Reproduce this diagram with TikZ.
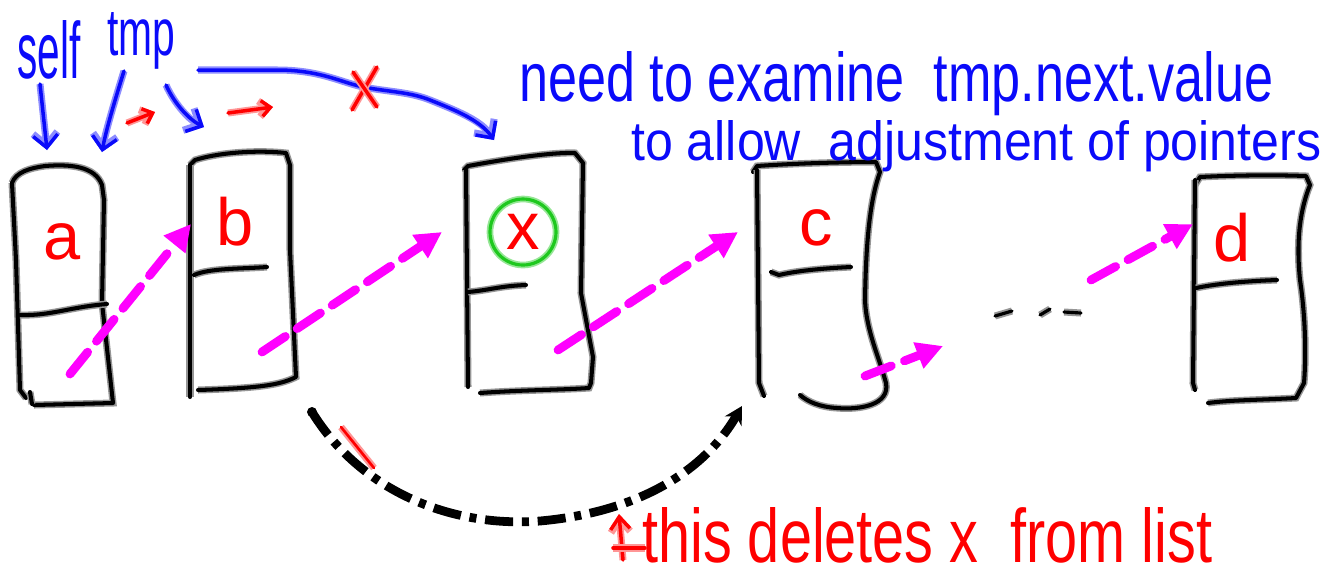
\documentclass[tikz,border=0pt]{standalone}
\usepackage{fontspec}
\setmainfont{Liberation Sans}
\usetikzlibrary{arrows.meta}
\definecolor{halo}{RGB}{150,150,150}
\definecolor{bluepen}{RGB}{10,10,250}
\definecolor{bluehalo}{RGB}{140,140,255}
\definecolor{redpen}{RGB}{255,0,0}
\definecolor{redhalo}{RGB}{255,150,150}
\definecolor{magpen}{RGB}{255,0,255}
\definecolor{greenpen}{RGB}{30,200,30}
\definecolor{greenhalo}{RGB}{150,230,150}
\tikzset{
  boxline/.style={draw=black, line width=2.3pt, line cap=round, line join=round,
    preaction={draw=halo, line width=4pt}},
  bluestroke/.style={draw=bluepen, line width=2pt, line cap=round, line join=round,
    preaction={draw=bluehalo, line width=4pt}},
  redstroke/.style={draw=redpen, line width=2pt, line cap=round, line join=round,
    preaction={draw=redhalo, line width=4pt}},
  bluearrow/.style={bluestroke, -{Straight Barb[length=7pt,width=14pt]}},
  redarrow/.style={redstroke, -{Straight Barb[length=5pt,width=9pt]}},
  magarrow/.style={draw=magpen, line width=5pt, line cap=round,
    dash pattern=on 16pt off 8pt, -{Triangle[length=15pt,width=15pt]}},
  delarrow/.style={draw=black, line width=5pt,
    dash pattern=on 16pt off 5pt on 4pt off 5pt, -{Stealth[length=10pt,width=11pt]}},
  boxlabel/.style={text=redpen, inner sep=0pt, font=\fontsize{38}{38}\selectfont},
  bluetext/.style={text=bluepen, inner sep=0pt, anchor=base west},
  redtext/.style={text=redpen, inner sep=0pt, anchor=base west},
}
\begin{document}
\begin{tikzpicture}[x=0.02cm, y=-0.02cm]
\useasboundingbox (0,0) rectangle (1333,583);

% ---------- boxes ----------
% a
\draw[boxline] (12,183) .. controls (16,172) and (30,168) .. (45,166) .. controls (70,164) and (95,166) .. (102,185)
  -- (104,200) -- (102,303) -- (113,403) -- (34,405);
\draw[boxline] (12,183) -- (16,260) -- (20,390) -- (26,398);
\draw[boxline] (30,392) -- (32,404);
\draw[boxline] (20,315) .. controls (50,316) and (70,307) .. (107,304);
% b
\draw[boxline] (190,165) -- (195,160) .. controls (220,152) and (260,150) .. (286,153) -- (290,165)
  -- (290,250) -- (296,377) .. controls (280,385) and (260,388) .. (198,390);
\draw[boxline] (190,165) -- (190,397);
\draw[boxline] (194,275) .. controls (210,268) and (240,269) .. (267,267);
% x
\draw[boxline] (464,170) -- (468,166) .. controls (500,160) and (550,152) .. (575,153) -- (583,163)
  -- (581,293) -- (593,357) -- (591,383) -- (589,388) .. controls (560,390) and (520,390) .. (480,393);
\draw[boxline] (466,170) -- (468,387);
\draw[boxline] (468,292) .. controls (490,290) and (500,286) .. (526,285);
% c
\draw[boxline] (753,172) -- (757,166) .. controls (800,163) and (850,162) .. (876,162) -- (880,172)
  .. controls (870,200) and (866,240) .. (865,300) .. controls (866,330) and (880,360) .. (886,383)
  .. controls (890,405) and (860,410) .. (837,408) .. controls (820,407) and (808,402) .. (800,395);
\draw[boxline] (757,170) -- (759,383) -- (764,396);
\draw[boxline] (771,272) -- (779,275) .. controls (800,270) and (830,268) .. (851,267);
% d
\draw[boxline] (1195,185) -- (1200,177) .. controls (1240,175) and (1280,175) .. (1306,176) -- (1310,185)
  .. controls (1300,210) and (1296,240) .. (1300,280) .. controls (1306,320) and (1306,360) .. (1304,383)
  -- (1296,398) .. controls (1260,400) and (1230,400) .. (1208,403);
\draw[boxline] (1195,180) -- (1193,383) -- (1195,390);
\draw[boxline] (1196,288) .. controls (1220,283) and (1250,281) .. (1277,280);

% ---------- labels ----------
\node[boxlabel] (la) at (62,242) {a};
\node[boxlabel] (lb) at (235,222) {b};
\node[boxlabel] (lx) at (523,232) {x};
\node[boxlabel] (lc) at (816,228) {c};
\node[boxlabel] (ld) at (1232,238) {d};
\draw[draw=greenpen, line width=1.8pt, preaction={draw=greenhalo, line width=3.8pt}]
  (lx) circle[radius=33];

% ---------- pointer coordinates ----------
\coordinate (apt) at (70,374);
\coordinate (bin) at (191,224);
\coordinate (bpt) at (262,352);
\coordinate (xin) at (442,232);
\coordinate (xpt) at (558,350);
\coordinate (cin) at (738,232);
\coordinate (cpt) at (865,376);
\coordinate (cend) at (943,346);
\coordinate (dst) at (1091,280);
\coordinate (din) at (1193,224);

\draw[magarrow] (apt) -- (bin);
\draw[magarrow] (bpt) -- (xin);
\draw[magarrow] (xpt) -- (cin);
\draw[magarrow] (cpt) -- (cend);
\draw[magarrow] (dst) -- (din);

% ellipsis
\draw[boxline, line width=1.8pt] (995,316) -- (1012,311);
\draw[boxline, line width=1.8pt] (1040,315) -- (1050,309);
\draw[boxline, line width=1.8pt] (1064,312) -- (1081,313);

% ---------- deletion arc ----------
\coordinate (delstart) at (312,412);
\coordinate (delend) at (742,406);
\fill (delstart) circle[radius=5];
\draw[delarrow] (delstart) .. controls (360,490) and (450,528) .. (540,521)
  .. controls (640,512) and (705,470) .. (delend);
\draw[redstroke, line width=1.5pt] (341,427) -- (374,468);

% ---------- top annotations ----------
\node[bluetext] (self) at (17,78) {\resizebox{1.26cm}{1.16cm}{self}};
\node[bluetext] (tmp) at (107,55) {\resizebox{1.36cm}{0.86cm}{tmp}};
\coordinate (selfdn) at (47,150);
\coordinate (tmpa1) at (124,71);
\coordinate (tmpa1e) at (102,152);
\coordinate (tmpa2) at (166,85);
\coordinate (tmpa2e) at (204,127);
\draw[bluearrow] (40,84) -- (selfdn);
\draw[bluearrow] (tmpa1) .. controls (115,100) and (106,130) .. (tmpa1e);
\draw[bluearrow] (tmpa2) .. controls (175,105) and (190,120) .. (tmpa2e);
\draw[redarrow] (127,123) -- (155,112);
\draw[redarrow] (228,113) -- (273,107);
\coordinate (tmpjump) at (198,70);
\coordinate (xtop) at (494,140);
\draw[bluearrow] (tmpjump) -- (277,70) .. controls (320,70) and (340,82) .. (363,87)
  .. controls (390,92) and (410,92) .. (430,100) .. controls (455,110) and (480,120) .. (xtop);
\draw[redstroke] (352,110) -- (377,67);
\draw[redstroke] (353,72) -- (377,107);

\node[bluetext] (need) at (519,101) {\resizebox{15.08cm}{1.0cm}{need to examine\ \ tmp.next.value}};
\node[bluetext] (allow) at (631,160) {\resizebox{13.8cm}{0.8cm}{to allow\ \ adjustment of pointers}};

% ---------- bottom note ----------
\coordinate (notept) at (623,560);
\coordinate (notetip) at (619,514);
\draw[redstroke, -{Straight Barb[length=7pt,width=11pt]}] (notept) -- (notetip);
\draw[redstroke] (613,548) -- (645,548);
\node[redtext] (note) at (642,562) {\resizebox{11.4cm}{1.1cm}{this deletes x\ \ from list}};
\end{tikzpicture}
\end{document}
